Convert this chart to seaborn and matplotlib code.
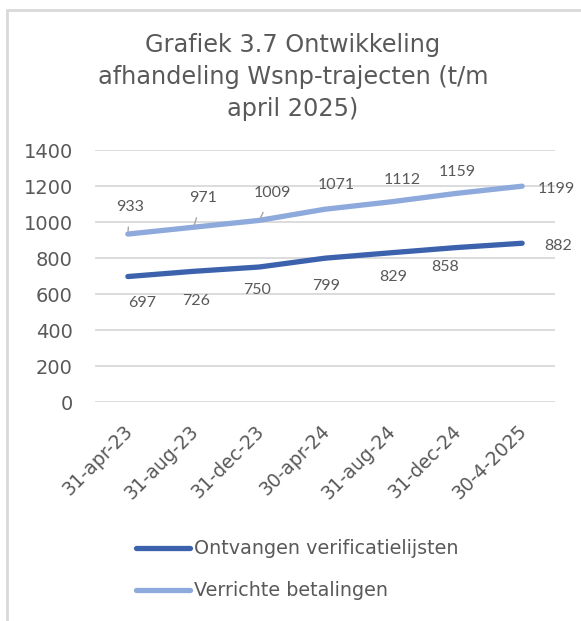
import pandas as pd
import matplotlib.pyplot as plt
import matplotlib.transforms as mtransforms
import seaborn as sns
from matplotlib.lines import Line2D

# data
datums = ['31-apr-23', '31-aug-23', '31-dec-23', '30-apr-24', '31-aug-24', '31-dec-24', '30-4-2025']
ontvangen = [697, 726, 750, 799, 829, 858, 882]
verricht = [933, 971, 1009, 1071, 1112, 1159, 1199]
reeksen = ['Ontvangen verificatielijsten', 'Verrichte betalingen']

df = pd.DataFrame({
    'datum': datums * 2,
    'waarde': ontvangen + verricht,
    'reeks': [reeksen[0]] * len(datums) + [reeksen[1]] * len(datums),
})

# layout of data labels (offset in pixels from point)
off_ontv = [(14, -26), (3, -30), (-2, -23), (1, -28), (3, -24), (-11, -19), (36, -3)]
off_verr = [(2, 27), (9, 29), (13, 27), (11, 24), (12, 22), (1, 21), (34, -3)]
leader = [True, True, True, False, False, False, False]

grijs = '#595959'
kleuren = {reeksen[0]: '#3C62AE', reeksen[1]: '#8EA9DB'}

sns.set_theme(style='white')
plt.rcParams['font.family'] = ['DejaVu Sans']

fig = plt.figure(figsize=(5.81, 6.21), dpi=100)
ax = fig.add_axes([95 / 581, 1 - 402 / 621, 460 / 581, 252 / 621])

sns.lineplot(data=df, x='datum', y='waarde', hue='reeks', palette=kleuren,
             linewidth=3.8, sort=False, ax=ax, legend=False)
for ln in ax.get_lines():
    ln.set_solid_capstyle('round')

ax.set_xlim(-0.5, len(datums) - 0.5)
ax.set_ylim(0, 1400)
ax.set_yticks(range(0, 1401, 200))
ax.yaxis.grid(True, color='#D9D9D9', linewidth=1.3)
ax.set_axisbelow(True)
for s in ax.spines.values():
    s.set_visible(False)
ax.set_xlabel('')
ax.set_ylabel('')
ax.tick_params(axis='both', length=0, labelsize=13.5, colors=grijs)
ax.tick_params(axis='y', labelsize=14, pad=16)
ax.tick_params(axis='x', pad=14)
verschuif = mtransforms.ScaledTranslation(-5 / 100, 0, fig.dpi_scale_trans)
for lbl in ax.get_xticklabels():
    lbl.set_rotation(45)
    lbl.set_ha('right')
    lbl.set_rotation_mode('anchor')
    lbl.set_transform(lbl.get_transform() + verschuif)

# data labels
for i, (a, b) in enumerate(zip(ontvangen, verricht)):
    ax.annotate(str(a), (i, a), xytext=off_ontv[i], textcoords='offset pixels',
                ha='center', va='center', fontsize=11.5, color=grijs, family='Lato')
    props = dict(arrowstyle='-', color='#A6A6A6', lw=1, shrinkA=7, shrinkB=2) if leader[i] else None
    ax.annotate(str(b), (i, b), xytext=off_verr[i], textcoords='offset pixels',
                ha='center', va='center', fontsize=11.5, color=grijs, family='Lato',
                arrowprops=props)

fig.text(293 / 581, 1 - 33 / 621, 'Grafiek 3.7 Ontwikkeling\nafhandeling Wsnp-trajecten (t/m\napril 2025)',
         ha='center', va='top', fontsize=17.3, color=grijs, linespacing=1.42)

handles = [Line2D([], [], color=kleuren[r], lw=3.8, solid_capstyle='round') for r in reeksen]
fig.legend(handles, reeksen, loc='center left', bbox_to_anchor=(136 / 581, 1 - 570 / 621),
           frameon=False, fontsize=13.8, labelcolor=grijs, handlelength=2.8,
           handletextpad=0.25, labelspacing=1.2, borderpad=0, borderaxespad=0)

# kader
fig.add_artist(Line2D([6.5 / 581, 6.5 / 581], [0, 1 - 10 / 621], color='#D9D9D9', lw=2,
                      transform=fig.transFigure))
fig.add_artist(Line2D([6.5 / 581, 1], [1 - 10 / 621, 1 - 10 / 621], color='#D9D9D9', lw=2,
                      transform=fig.transFigure))

fig.savefig('out.png', dpi=100, facecolor='white')
